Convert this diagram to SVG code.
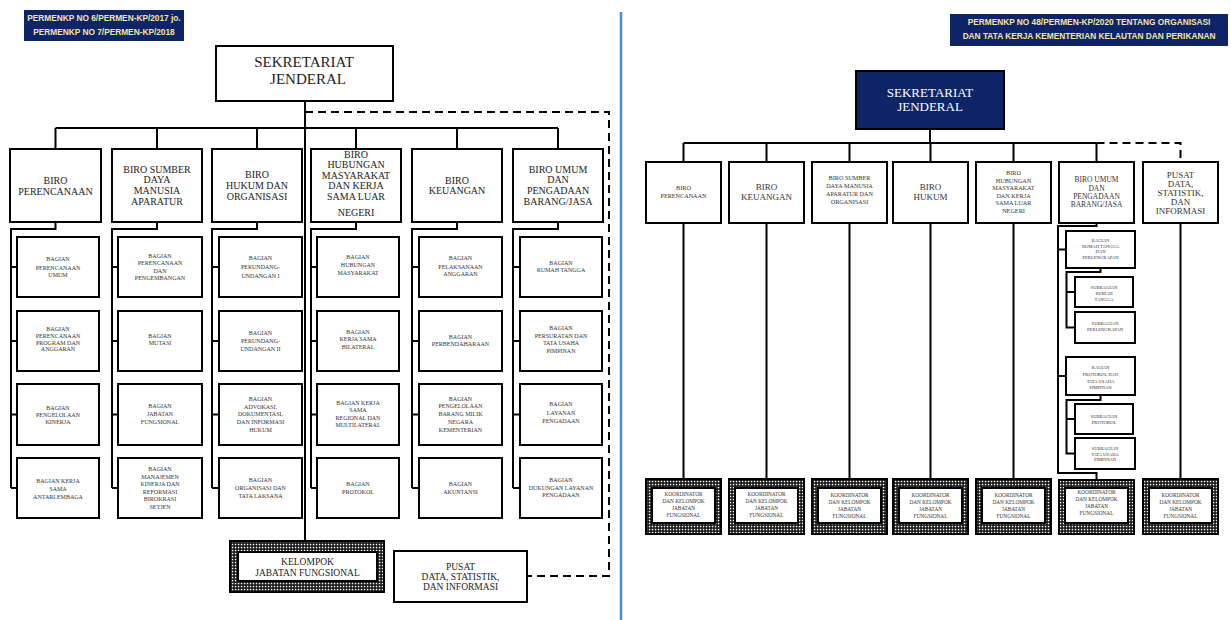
<svg xmlns="http://www.w3.org/2000/svg" width="1231" height="620" viewBox="0 0 1231 620">
<style>
.bx{fill:#fff;stroke:#000;stroke-width:2}
.ln{fill:none;stroke:#000;stroke-width:2}
.dsh{fill:none;stroke:#000;stroke-width:2;stroke-dasharray:8 5}
.hd{fill:#0d2566}
.ht{font-family:"Liberation Sans","DejaVu Sans",sans-serif;font-weight:bold;font-size:8.3px;fill:#f3e6a6;text-anchor:middle}
.sj{font-family:"Liberation Serif","DejaVu Serif",serif;font-size:15px;fill:#222;text-anchor:middle}
.sjw{font-family:"Liberation Serif","DejaVu Serif",serif;font-size:13px;fill:#fff;text-anchor:middle}
.b{font-family:"Liberation Serif","DejaVu Serif",serif;font-size:10px;fill:#222;text-anchor:middle}
.s{font-family:"Liberation Serif","DejaVu Serif",serif;font-size:6px;fill:#333;text-anchor:middle}
.rs{font-family:"Liberation Serif","DejaVu Serif",serif;font-size:6.2px;fill:#333;text-anchor:middle}
.rm{font-family:"Liberation Serif","DejaVu Serif",serif;font-size:9px;fill:#333;text-anchor:middle}
.ru{font-family:"Liberation Serif","DejaVu Serif",serif;font-size:7.5px;fill:#333;text-anchor:middle}
.xs{font-family:"Liberation Serif","DejaVu Serif",serif;font-size:4.6px;fill:#333;text-anchor:middle}
.ko{font-family:"Liberation Serif","DejaVu Serif",serif;font-size:5.3px;fill:#333;text-anchor:middle}
.kl{font-family:"Liberation Serif","DejaVu Serif",serif;font-size:9.5px;fill:#222;text-anchor:middle}
.hat{fill:url(#grid);stroke:#000;stroke-width:2}
</style>
<defs>
<pattern id="grid" width="3" height="3" patternUnits="userSpaceOnUse">
<rect width="3" height="3" fill="#111"/>
<rect x="0.8" y="0.8" width="1.5" height="1.5" fill="#fff"/>
</pattern>
</defs>
<rect width="1231" height="620" fill="#fff"/>
<line x1="621" y1="12" x2="621" y2="620" stroke="#4a8ad4" stroke-width="2.5"/>

<g id="connectors">
<path class="ln" d="M305,101 V541"/>
<path class="ln" d="M55.5,128 H558"/>
<path class="ln" d="M55.5,128 V149 M157,128 V149 M257,128 V149 M356,128 V149 M457,128 V149 M558,128 V149"/>
<path class="dsh" d="M305,112 H609 V576 H527"/>
<path class="ln" d="M55.5,222 V229 H11 V488 M11,267 H17 M11,341 H17 M11,414.5 H17 M11,488 H17"/>
<path class="ln" d="M157,222 V229 H112 V488 M112,267 H118 M112,341 H118 M112,414.5 H118 M112,488 H118"/>
<path class="ln" d="M257,222 V229 H212 V488 M212,267 H219 M212,341 H219 M212,414.5 H219 M212,488 H219"/>
<path class="ln" d="M356,222 V229 H311 V488 M311,267 H317 M311,341 H317 M311,414.5 H317 M311,488 H317"/>
<path class="ln" d="M457,222 V229 H412 V488 M412,267 H419 M412,341 H419 M412,414.5 H419 M412,488 H419"/>
<path class="ln" d="M558,222 V229 H513 V488 M513,267 H520 M513,341 H520 M513,414.5 H520 M513,488 H520"/>
<path class="ln" d="M930,129 V143 M683.5,143 H1096.5"/>
<path class="ln" d="M683.5,143 V162 M766.5,143 V162 M849.5,143 V162 M930.5,143 V162 M1013.5,143 V162 M1096.5,143 V162"/>
<path class="dsh" d="M1096.5,143 H1180.5 V158"/>
<path class="ln" d="M683.5,223 V479 M766.5,223 V479 M849.5,223 V479 M930.5,223 V479 M1013.5,223 V479 M1180.5,223 V479"/>
<path class="ln" d="M1096.5,223 V226 H1058 V473 H1096.5 V480 M1058,249.5 H1066 M1058,376 H1066"/>
<path class="ln" d="M1100.5,268 V272 H1066.5 V327.5 H1075 M1066.5,292 H1075"/>
<path class="ln" d="M1100.5,395 V400 H1066.5 V453.5 H1075 M1066.5,419 H1075"/>
</g>

<g id="header-left">
<rect class="hd" x="24" y="10" width="160" height="31"/>
<text class="ht" x="104" y="21">PERMENKP NO 6/PERMEN-KP/2017 jo.</text>
<text class="ht" x="104" y="34.5">PERMENKP NO 7/PERMEN-KP/2018</text>
</g>

<g id="sj-left">
<rect class="bx" x="216" y="46" width="177" height="55"/>
<text class="sj" x="304" y="67">SEKRETARIAT</text>
<text class="sj" x="308" y="84">JENDERAL</text>
</g>

<g id="biro-perencanaan">
<rect class="bx" x="10" y="149" width="91" height="73"/>
<text class="b"><tspan x="55.5" y="183.5">BIRO</tspan><tspan x="55.5" y="194.5">PERENCANAAN</tspan></text>
</g>
<g id="biro-sdm">
<rect class="bx" x="112" y="149" width="90" height="73"/>
<text class="b"><tspan x="157" y="172.5">BIRO SUMBER</tspan><tspan x="157" y="182.5">DAYA</tspan><tspan x="157" y="193.5">MANUSIA</tspan><tspan x="157" y="204.5">APARATUR</tspan></text>
</g>
<g id="biro-hukum">
<rect class="bx" x="212" y="149" width="90" height="73"/>
<text class="b"><tspan x="257" y="177.5">BIRO</tspan><tspan x="257" y="188.5">HUKUM DAN</tspan><tspan x="257" y="199.5">ORGANISASI</tspan></text>
</g>
<g id="biro-hubungan">
<rect class="bx" x="311" y="149" width="90" height="73"/>
<text class="b"><tspan x="356" y="157.5">BIRO</tspan><tspan x="356" y="167.5">HUBUNGAN</tspan><tspan x="356" y="178.5">MASYARAKAT</tspan><tspan x="356" y="188.5">DAN KERJA</tspan><tspan x="356" y="199.5">SAMA LUAR</tspan><tspan x="356" y="215.5">NEGERI</tspan></text>
</g>
<g id="biro-keuangan">
<rect class="bx" x="412" y="149" width="90" height="73"/>
<text class="b"><tspan x="457" y="183.5">BIRO</tspan><tspan x="457" y="193.5">KEUANGAN</tspan></text>
</g>
<g id="biro-umum">
<rect class="bx" x="513" y="149" width="90" height="73"/>
<text class="b"><tspan x="558" y="172.5">BIRO UMUM</tspan><tspan x="558" y="182.5">DAN</tspan><tspan x="558" y="193.5">PENGADAAN</tspan><tspan x="558" y="204.5">BARANG/JASA</tspan></text>
</g>

<g id="l-c1-1"><rect class="bx" x="17" y="237" width="82" height="60"/>
<text class="s"><tspan x="58" y="261">BAGIAN</tspan><tspan x="58" y="270">PERENCANAAN</tspan><tspan x="58" y="277">UMUM</tspan></text></g>
<g id="l-c1-2"><rect class="bx" x="17" y="311" width="82" height="60"/>
<text class="s"><tspan x="58" y="331">BAGIAN</tspan><tspan x="58" y="338">PERENCANAAN</tspan><tspan x="58" y="344.5">PROGRAM DAN</tspan><tspan x="58" y="351">ANGGARAN</tspan></text></g>
<g id="l-c1-3"><rect class="bx" x="17" y="384" width="82" height="61"/>
<text class="s"><tspan x="58" y="410">BAGIAN</tspan><tspan x="58" y="417">PENGELOLAAN</tspan><tspan x="58" y="424">KINERJA</tspan></text></g>
<g id="l-c1-4"><rect class="bx" x="17" y="458" width="82" height="60"/>
<text class="s"><tspan x="58" y="483">BAGIAN KERJA</tspan><tspan x="58" y="491">SAMA</tspan><tspan x="58" y="499">ANTARLEMBAGA</tspan></text></g>

<g id="l-c2-1"><rect class="bx" x="118" y="237" width="84" height="60"/>
<text class="s"><tspan x="160" y="258">BAGIAN</tspan><tspan x="160" y="265">PERENCANAAN</tspan><tspan x="160" y="273">DAN</tspan><tspan x="160" y="280">PENGEMBANGAN</tspan></text></g>
<g id="l-c2-2"><rect class="bx" x="118" y="311" width="84" height="60"/>
<text class="s"><tspan x="160" y="338">BAGIAN</tspan><tspan x="160" y="344.5">MUTASI</tspan></text></g>
<g id="l-c2-3"><rect class="bx" x="118" y="384" width="84" height="61"/>
<text class="s"><tspan x="160" y="408">BAGIAN</tspan><tspan x="160" y="416">JABATAN</tspan><tspan x="160" y="424">FUNGSIONAL</tspan></text></g>
<g id="l-c2-4"><rect class="bx" x="118" y="458" width="84" height="60"/>
<text class="s"><tspan x="160" y="471">BAGIAN</tspan><tspan x="160" y="479">MANAJEMEN</tspan><tspan x="160" y="486">KINERJA DAN</tspan><tspan x="160" y="494">REFORMASI</tspan><tspan x="160" y="501">BIROKRASI</tspan><tspan x="160" y="509">SETJEN</tspan></text></g>

<g id="l-c3-1"><rect class="bx" x="219" y="237" width="83" height="60"/>
<text class="s"><tspan x="260.5" y="260">BAGIAN</tspan><tspan x="260.5" y="269">PERUNDANG-</tspan><tspan x="260.5" y="278">UNDANGAN  I</tspan></text></g>
<g id="l-c3-2"><rect class="bx" x="219" y="311" width="83" height="60"/>
<text class="s"><tspan x="260.5" y="335">BAGIAN</tspan><tspan x="260.5" y="343">PERUNDANG-</tspan><tspan x="260.5" y="351">UNDANGAN  II</tspan></text></g>
<g id="l-c3-3"><rect class="bx" x="219" y="384" width="83" height="61"/>
<text class="s"><tspan x="260.5" y="401">BAGIAN</tspan><tspan x="260.5" y="409">ADVOKASI,</tspan><tspan x="260.5" y="416">DOKUMENTASI,</tspan><tspan x="260.5" y="424">DAN INFORMASI</tspan><tspan x="260.5" y="432">HUKUM</tspan></text></g>
<g id="l-c3-4"><rect class="bx" x="219" y="458" width="83" height="60"/>
<text class="s"><tspan x="260.5" y="482">BAGIAN</tspan><tspan x="260.5" y="490">ORGANISASI DAN</tspan><tspan x="260.5" y="498">TATA LAKSANA</tspan></text></g>

<g id="l-c4-1"><rect class="bx" x="317" y="237" width="82" height="60"/>
<text class="s"><tspan x="358" y="259">BAGIAN</tspan><tspan x="358" y="267">HUBUNGAN</tspan><tspan x="358" y="275">MASYARAKAT</tspan></text></g>
<g id="l-c4-2"><rect class="bx" x="317" y="311" width="82" height="60"/>
<text class="s"><tspan x="358" y="334">BAGIAN</tspan><tspan x="358" y="341">KERJA SAMA</tspan><tspan x="358" y="349">BILATERAL</tspan></text></g>
<g id="l-c4-3"><rect class="bx" x="317" y="384" width="82" height="61"/>
<text class="s"><tspan x="358" y="405">BAGIAN KERJA</tspan><tspan x="358" y="412">SAMA</tspan><tspan x="358" y="420">REGIONAL DAN</tspan><tspan x="358" y="427">MULTILATERAL</tspan></text></g>
<g id="l-c4-4"><rect class="bx" x="317" y="458" width="82" height="60"/>
<text class="s"><tspan x="358" y="486">BAGIAN</tspan><tspan x="358" y="494">PROTOKOL</tspan></text></g>

<g id="l-c5-1"><rect class="bx" x="419" y="237" width="83" height="60"/>
<text class="s"><tspan x="460.5" y="260">BAGIAN</tspan><tspan x="460.5" y="269">PELAKSANAAN</tspan><tspan x="460.5" y="276">ANGGARAN</tspan></text></g>
<g id="l-c5-2"><rect class="bx" x="419" y="311" width="83" height="60"/>
<text class="s"><tspan x="460.5" y="339">BAGIAN</tspan><tspan x="460.5" y="345.5">PERBENDAHARAAN</tspan></text></g>
<g id="l-c5-3"><rect class="bx" x="419" y="384" width="83" height="61"/>
<text class="s"><tspan x="460.5" y="401">BAGIAN</tspan><tspan x="460.5" y="408">PENGELOLAAN</tspan><tspan x="460.5" y="416">BARANG MILIK</tspan><tspan x="460.5" y="424">NEGARA</tspan><tspan x="460.5" y="432">KEMENTERIAN</tspan></text></g>
<g id="l-c5-4"><rect class="bx" x="419" y="458" width="83" height="60"/>
<text class="s"><tspan x="460.5" y="486">BAGIAN</tspan><tspan x="460.5" y="494">AKUNTANSI</tspan></text></g>

<g id="l-c6-1"><rect class="bx" x="520" y="237" width="82" height="60"/>
<text class="s"><tspan x="561" y="265">BAGIAN</tspan><tspan x="561" y="272">RUMAH TANGGA</tspan></text></g>
<g id="l-c6-2"><rect class="bx" x="520" y="311" width="82" height="60"/>
<text class="s"><tspan x="561" y="330">BAGIAN</tspan><tspan x="561" y="338">PERSURATAN DAN</tspan><tspan x="561" y="345">TATA USAHA</tspan><tspan x="561" y="353">PIMPINAN</tspan></text></g>
<g id="l-c6-3"><rect class="bx" x="520" y="384" width="82" height="61"/>
<text class="s"><tspan x="561" y="406">BAGIAN</tspan><tspan x="561" y="415">LAYANAN</tspan><tspan x="561" y="423">PENGADAAN</tspan></text></g>
<g id="l-c6-4"><rect class="bx" x="520" y="458" width="82" height="60"/>
<text class="s"><tspan x="561" y="482">BAGIAN</tspan><tspan x="561" y="489.5">DUKUNGAN LAYANAN</tspan><tspan x="561" y="497">PENGADAAN</tspan></text></g>

<g id="kelompok-left">
<rect class="hat" x="230" y="541" width="154" height="51"/>
<rect class="bx" x="238" y="552" width="139" height="29"/>
<text class="kl"><tspan x="307.5" y="565">KELOMPOK</tspan><tspan x="307.5" y="576">JABATAN FUNGSIONAL</tspan></text>
</g>

<g id="pusat-left">
<rect class="bx" x="394" y="551" width="133" height="51"/>
<text class="kl"><tspan x="460.5" y="570">PUSAT</tspan><tspan x="460.5" y="580">DATA, STATISTIK,</tspan><tspan x="460.5" y="590">DAN INFORMASI</tspan></text>
</g>

<g id="header-right">
<rect class="hd" x="950" y="14" width="278" height="32"/>
<text class="ht" x="1089" y="25">PERMENKP NO 48/PERMEN-KP/2020 TENTANG ORGANISASI</text>
<text class="ht" x="1089" y="39">DAN TATA KERJA KEMENTERIAN KELAUTAN DAN PERIKANAN</text>
</g>

<g id="sj-right">
<rect x="856" y="71" width="148" height="58" fill="#0d2566" stroke="#000" stroke-width="2"/>
<text class="sjw"><tspan x="930" y="97">SEKRETARIAT</tspan><tspan x="930" y="111">JENDERAL</tspan></text>
</g>

<g id="r-perencanaan"><rect class="bx" x="646" y="162" width="75" height="61"/>
<text class="rs"><tspan x="683.5" y="190">BIRO</tspan><tspan x="683.5" y="198">PERENCANAAN</tspan></text></g>
<g id="r-keuangan"><rect class="bx" x="729" y="162" width="75" height="61"/>
<text class="rm"><tspan x="766.5" y="190">BIRO</tspan><tspan x="766.5" y="200">KEUANGAN</tspan></text></g>
<g id="r-sdm"><rect class="bx" x="812" y="162" width="75" height="61"/>
<text class="rs"><tspan x="849.5" y="180">BIRO SUMBER</tspan><tspan x="849.5" y="188">DAYA MANUSIA</tspan><tspan x="849.5" y="196">APARATUR DAN</tspan><tspan x="849.5" y="204">ORGANISASI</tspan></text></g>
<g id="r-hukum"><rect class="bx" x="893" y="162" width="75" height="61"/>
<text class="rm"><tspan x="930.5" y="190">BIRO</tspan><tspan x="930.5" y="200">HUKUM</tspan></text></g>
<g id="r-hubungan"><rect class="bx" x="976" y="162" width="75" height="61"/>
<text class="rs"><tspan x="1013.5" y="175">BIRO</tspan><tspan x="1013.5" y="182.5">HUBUNGAN</tspan><tspan x="1013.5" y="190">MASYARAKAT</tspan><tspan x="1013.5" y="197.5">DAN KERJA</tspan><tspan x="1013.5" y="205">SAMA LUAR</tspan><tspan x="1013.5" y="212.5">NEGERI</tspan></text></g>
<g id="r-umum"><rect class="bx" x="1059" y="162" width="75" height="61"/>
<text class="ru"><tspan x="1096.5" y="181.5">BIRO UMUM</tspan><tspan x="1096.5" y="190.5">DAN</tspan><tspan x="1096.5" y="198.5">PENGADAAN</tspan><tspan x="1096.5" y="206.5">BARANG/JASA</tspan></text></g>
<g id="r-pusat"><rect class="bx" x="1143" y="162" width="75" height="61"/>
<text class="rm"><tspan x="1180.5" y="178">PUSAT</tspan><tspan x="1180.5" y="186.5">DATA,</tspan><tspan x="1180.5" y="195.5">STATISTIK,</tspan><tspan x="1180.5" y="205">DAN</tspan><tspan x="1180.5" y="214">INFORMASI</tspan></text></g>

<g id="r-bag-rt"><rect class="bx" x="1066" y="231" width="69" height="37"/>
<text class="xs"><tspan x="1100.5" y="241.6">BAGIAN</tspan><tspan x="1100.5" y="247.6">RUMAH TANGGA</tspan><tspan x="1100.5" y="253">DAN</tspan><tspan x="1100.5" y="258.6">PERLENGKAPAN</tspan></text></g>
<g id="r-sub-rt"><rect class="bx" x="1075" y="277" width="58" height="30"/>
<text class="xs"><tspan x="1104" y="288.6">SUBBAGIAN</tspan><tspan x="1104" y="294.6">RUMAH</tspan><tspan x="1104" y="300.6">TANGGA</tspan></text></g>
<g id="r-sub-perl"><rect class="bx" x="1075" y="312" width="60" height="31"/>
<text class="xs"><tspan x="1105" y="324.6">SUBBAGIAN</tspan><tspan x="1105" y="330.6">PERLENGKAPAN</tspan></text></g>
<g id="r-bag-prot"><rect class="bx" x="1066" y="357" width="69" height="38"/>
<text class="xs"><tspan x="1100.5" y="368.6">BAGIAN</tspan><tspan x="1100.5" y="375.6">PROTOKOL DAN</tspan><tspan x="1100.5" y="382.6">TATA  USAHA</tspan><tspan x="1100.5" y="388.6">PIMPINAN</tspan></text></g>
<g id="r-sub-prot"><rect class="bx" x="1075" y="404" width="58" height="30"/>
<text class="xs"><tspan x="1104" y="418">SUBBAGIAN</tspan><tspan x="1104" y="423.6">PROTOKOL</tspan></text></g>
<g id="r-sub-tu"><rect class="bx" x="1075" y="438" width="60" height="31"/>
<text class="xs"><tspan x="1105" y="449.6">SUBBAGIAN</tspan><tspan x="1105" y="455.6">TATA USAHA</tspan><tspan x="1105" y="461">PIMPINAN</tspan></text></g>

<g id="r-koor-1"><rect class="hat" x="646" y="479" width="75" height="55"/><rect class="bx" x="652" y="488" width="63" height="35"/>
<text class="ko"><tspan x="683.5" y="495.5">KOORDINATOR</tspan><tspan x="683.5" y="502.5">DAN KELOMPOK</tspan><tspan x="683.5" y="509.5">JABATAN</tspan><tspan x="683.5" y="516.5">FUNGSIONAL</tspan></text></g>
<g id="r-koor-2"><rect class="hat" x="729" y="479" width="75" height="55"/><rect class="bx" x="735" y="488" width="63" height="35"/>
<text class="ko"><tspan x="766.5" y="495.5">KOORDINATOR</tspan><tspan x="766.5" y="502.5">DAN KELOMPOK</tspan><tspan x="766.5" y="509.5">JABATAN</tspan><tspan x="766.5" y="516.5">FUNGSIONAL</tspan></text></g>
<g id="r-koor-3"><rect class="hat" x="812" y="479" width="75" height="55"/><rect class="bx" x="818" y="488" width="63" height="35"/>
<text class="ko"><tspan x="849.5" y="497">KOORDINATOR</tspan><tspan x="849.5" y="504">DAN KELOMPOK</tspan><tspan x="849.5" y="511">JABATAN</tspan><tspan x="849.5" y="518">FUNGSIONAL</tspan></text></g>
<g id="r-koor-4"><rect class="hat" x="893" y="479" width="75" height="55"/><rect class="bx" x="899" y="488" width="63" height="35"/>
<text class="ko"><tspan x="930.5" y="497">KOORDINATOR</tspan><tspan x="930.5" y="504">DAN KELOMPOK</tspan><tspan x="930.5" y="511">JABATAN</tspan><tspan x="930.5" y="518">FUNGSIONAL</tspan></text></g>
<g id="r-koor-5"><rect class="hat" x="976" y="479" width="75" height="55"/><rect class="bx" x="982" y="488" width="63" height="35"/>
<text class="ko"><tspan x="1013.5" y="497">KOORDINATOR</tspan><tspan x="1013.5" y="504">DAN KELOMPOK</tspan><tspan x="1013.5" y="511">JABATAN</tspan><tspan x="1013.5" y="518">FUNGSIONAL</tspan></text></g>
<g id="r-koor-6"><rect class="hat" x="1059" y="480" width="75" height="54"/><rect class="bx" x="1065" y="488" width="63" height="35"/>
<text class="ko"><tspan x="1096.5" y="494">KOORDINATOR</tspan><tspan x="1096.5" y="501">DAN KELOMPOK</tspan><tspan x="1096.5" y="508">JABATAN</tspan><tspan x="1096.5" y="515">FUNGSIONAL</tspan></text></g>
<g id="r-koor-7"><rect class="hat" x="1143" y="479" width="75" height="55"/><rect class="bx" x="1149" y="488" width="63" height="35"/>
<text class="ko"><tspan x="1180.5" y="497">KOORDINATOR</tspan><tspan x="1180.5" y="504">DAN KELOMPOK</tspan><tspan x="1180.5" y="511">JABATAN</tspan><tspan x="1180.5" y="518">FUNGSIONAL</tspan></text></g>
</svg>
